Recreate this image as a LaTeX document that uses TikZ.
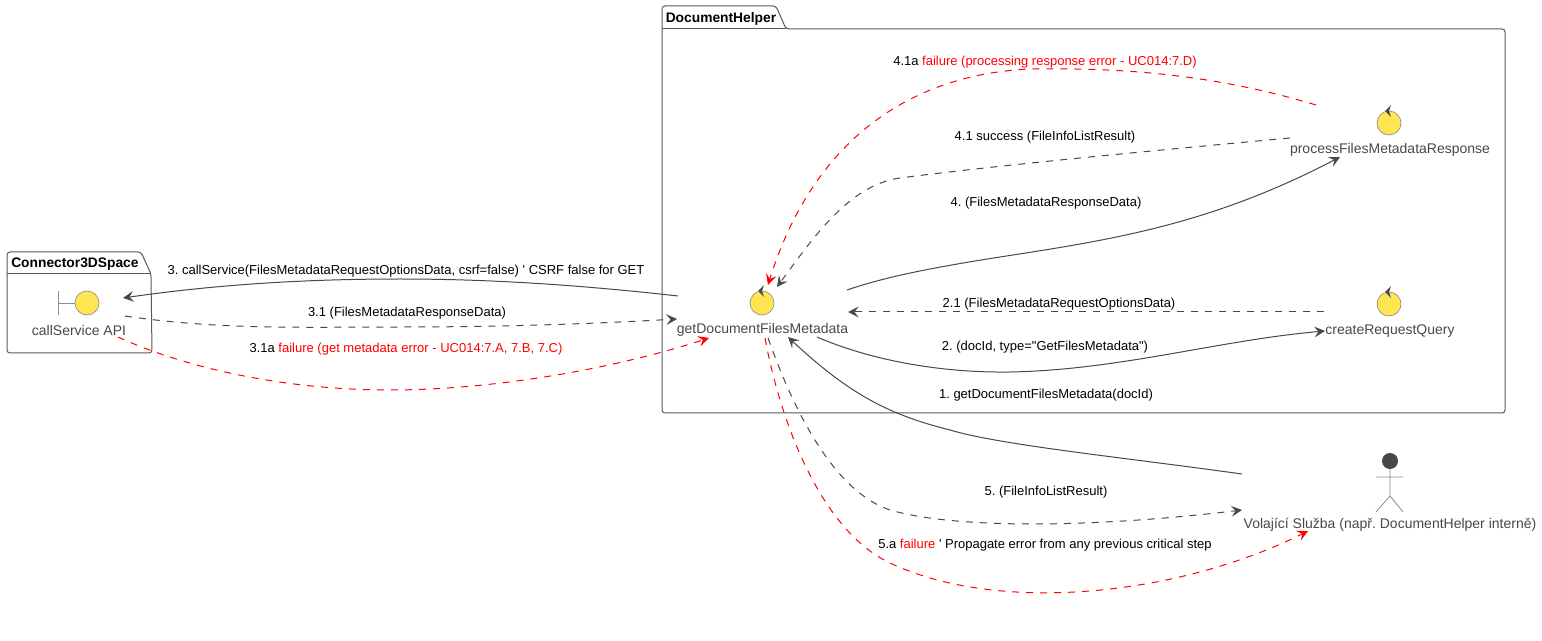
\documentclass[tikz,border=0pt]{standalone}
\usepackage{fontspec}
\setmainfont{Liberation Sans}[Ligatures=TeXOff]
\usetikzlibrary{arrows.meta}
\definecolor{ink}{HTML}{484848}
\definecolor{iconfill}{HTML}{FFE552}
\definecolor{iconline}{HTML}{8C8C8C}
\definecolor{pkgline}{HTML}{5A5A5A}
\tikzset{
  x=0.75pt,y=-0.75pt,
  flow/.style={draw=ink,line width=0.75pt,-{Stealth[length=8pt,width=8pt,inset=3.2pt]}},
  flowdash/.style={flow,dash pattern=on 5.25pt off 5.25pt},
  flowfail/.style={flowdash,draw=red,-{Stealth[length=8pt,width=8pt,inset=3.2pt,red]}},
  partlabel/.style={text=ink,font=\fontsize{10.5pt}{12pt}\selectfont,inner sep=0pt},
  edgelabel/.style={text=black,font=\fontsize{9.75pt}{11pt}\selectfont,inner sep=0pt},
  pkgtitle/.style={text=black,font=\fontsize{10.35pt}{12pt}\selectfont\bfseries,inner sep=0pt,anchor=west},
  pkgbox/.style={draw=pkgline,line width=0.75pt,rounded corners=2.2pt},
  iconball/.style={circle,draw=iconline,fill=iconfill,line width=0.5pt,minimum size=18pt,inner sep=0pt},
  iconlines/.style={draw=iconline,line width=0.6pt},
}
\newcommand{\ctrlmark}[1]{%
  \fill[ink] ([shift={(-4,-12)}]#1.center) -- ([shift={(2,-18)}]#1.center)
    -- ([shift={(0,-12)}]#1.center) -- ([shift={(2,-6)}]#1.center) -- cycle;}
\begin{document}
\frenchspacing
\begin{tikzpicture}
\useasboundingbox (0,0) rectangle (1542,641);
\fill[white] (0,0) rectangle (1542,641);

% packages
\draw[pkgbox] (7,274) -- (7,252) -- (141,252) -- (151,274) -- (152,353) -- (7,353) -- cycle;
\draw[pkgline,line width=0.75pt] (7,274) -- (151,274);
\node[pkgtitle] (pkgcon) at (11,264) {Connector3DSpace};
\draw[pkgbox] (662,29) -- (662,6) -- (776,6) -- (786,29) -- (1505,29) -- (1505,413) -- (662,413) -- cycle;
\draw[pkgline,line width=0.75pt] (662,29) -- (786,29);
\node[pkgtitle] (pkgdoc) at (665.5,19) {DocumentHelper};

% participants
\node[partlabel] (cs) at (79,330) {callService API};
\node[partlabel] (gd) at (762.5,330) {getDocumentFilesMetadata};
\node[partlabel] (pf) at (1390,150) {processFilesMetadataResponse};
\node[partlabel] (cr) at (1390,331) {createRequestQuery};
\node[partlabel] (vs) at (1390,525) {Volající Služba (např. DocumentHelper interně)};

% icons
\node[iconball] (iconcs) at (87,303) {};
\draw[iconlines] (58,291) -- (58,315) (58,303) -- (iconcs.west);
\node[iconball] (icongd) at (762,303) {};
\ctrlmark{icongd}
\node[iconball] (iconpf) at (1389,123) {};
\ctrlmark{iconpf}
\node[iconball] (iconcr) at (1389,304) {};
\ctrlmark{iconcr}
\fill[ink] (1390,461) circle (6pt);
\coordinate (head) at (1390,469);
\draw[iconlines] (head) -- (1390,496) (1376,477) -- (1403,477) (1376,512) -- (1390,496) -- (1403,512);

% connectors
\draw[flow] ([shift={(-84.5,-34)}]gd.center) .. controls (580,285) and (490,279) .. (400,279)
  .. controls (310,279) and (220,284) .. ([shift={(44,-32)}]cs.center);
\draw[flowdash] ([shift={(46,-14)}]cs.center) .. controls (220,330) and (300,327) .. (400,327)
  .. controls (500,327) and (590,324) .. ([shift={(-85.5,-11)}]gd.center);
\draw[flowfail] ([shift={(39,7)}]cs.center) .. controls (190,370) and (290,390) .. (390,390)
  .. controls (490,390) and (610,370) .. ([shift={(-53.5,8)}]gd.center);
\draw[flow] ([shift={(84.5,-40)}]gd.center) .. controls (885,277) and (930,268) .. (1000,257)
  .. controls (1110,240) and (1210,225) .. ([shift={(-50,7)}]pf.center);
\draw[flowdash] ([shift={(-100,-12)}]pf.center) .. controls (1160,150) and (1000,165) .. (900,178)
  .. controls (850,185) and (815,235) .. ([shift={(14.5,-43)}]gd.center);
\draw[flowfail] ([shift={(-74,-45)}]pf.center) .. controls (1200,70) and (1100,68) .. (1030,69)
  .. controls (900,75) and (810,150) .. ([shift={(5.5,-45)}]gd.center);
\draw[flowdash] ([shift={(-66,-19)}]cr.center) -- ([shift={(85.5,-18)}]gd.center);
\draw[flow] ([shift={(54.5,7)}]gd.center) .. controls (870,360) and (940,373) .. (1010,372)
  .. controls (1120,370) and (1220,340) .. ([shift={(-65,0)}]cr.center);
\draw[flow] ([shift={(-148,-51)}]vs.center) .. controls (1120,457) and (1000,445) .. (950,430)
  .. controls (890,415) and (850,395) .. ([shift={(25.5,7)}]gd.center);
\draw[flowdash] ([shift={(5.5,8)}]gd.center) .. controls (790,400) and (830,490) .. (890,510)
  .. controls (960,530) and (1100,527) .. ([shift={(-148,-15)}]vs.center);
\draw[flowfail] ([shift={(2.5,8)}]gd.center) .. controls (780,420) and (820,530) .. (890,563)
  .. controls (1000,615) and (1180,595) .. ([shift={(-82,6)}]vs.center);

% connector labels
\node[edgelabel] (l3) at (406,271) {3. callService(FilesMetadataRequestOptionsData, csrf=false) ' CSRF false for GET};
\node[edgelabel] (l31) at (407,313) {3.1 (FilesMetadataResponseData)};
\node[edgelabel] (l31a) at (406,349) {3.1a \textcolor{red}{failure (get metadata error - UC014:7.A, 7.B, 7.C)}};
\node[edgelabel] (l41a) at (1045,62) {4.1a \textcolor{red}{failure (processing response error - UC014:7.D)}};
\node[edgelabel] (l41) at (1045,137) {4.1 success (FileInfoListResult)};
\node[edgelabel] (l4) at (1046,203) {4. (FilesMetadataResponseData)};
\node[edgelabel] (l21) at (1059,304) {2.1 (FilesMetadataRequestOptionsData)};
\node[edgelabel] (l2) at (1045,347) {2. (docId, type="GetFilesMetadata")};
\node[edgelabel] (l1) at (1046,395) {1. getDocumentFilesMetadata(docId)};
\node[edgelabel] (l5) at (1046,492) {5. (FileInfoListResult)};
\node[edgelabel] (l5a) at (1045,545) {5.a \textcolor{red}{failure} ' Propagate error from any previous critical step};
\end{tikzpicture}
\end{document}
